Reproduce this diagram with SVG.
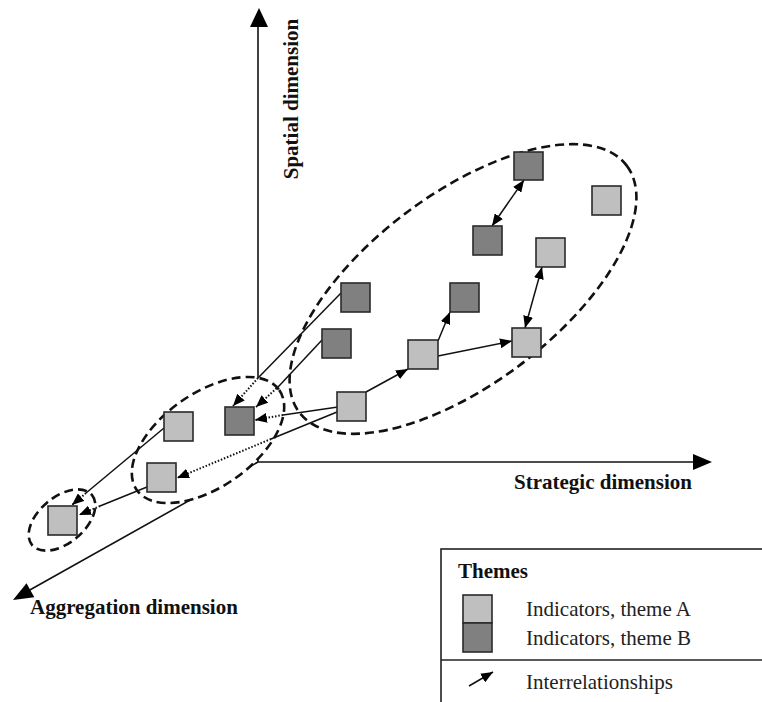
<svg xmlns="http://www.w3.org/2000/svg" width="762" height="702" viewBox="0 0 762 702">
<style>
.axis{stroke:#111;stroke-width:1.6;fill:none}
.ahead{fill:#000;stroke:none}
.efill{fill:#fff;stroke:none}
.ell{fill:none;stroke:#111;stroke-width:2.6;stroke-dasharray:9,5}
.c{stroke:#111;stroke-width:1.5;fill:none}
.d{stroke:#111;stroke-width:2;fill:none;stroke-dasharray:1.5,1.8}
.a{fill:#bfbfbf;stroke:#2a2a2a;stroke-width:1.6}
.b{fill:#808080;stroke:#2a2a2a;stroke-width:1.6}
.lab{font-family:"Liberation Serif","Times New Roman",serif;font-weight:bold;font-size:21px;fill:#111}
.leg{font-family:"Liberation Serif","Times New Roman",serif;font-size:21px;fill:#222}
</style>
<defs>
<marker id="ah" viewBox="0 0 12 10" refX="12" refY="5" markerWidth="12" markerHeight="10" markerUnits="userSpaceOnUse" orient="auto-start-reverse">
<path d="M0,0 L12,5 L0,10 z" fill="#000"/>
</marker>
</defs>

<g id="axes">
<line class="axis" x1="258" y1="462" x2="258" y2="24"/>
<polygon class="ahead" points="259,8 268,27 250,27"/>
<line class="axis" x1="258" y1="462" x2="696" y2="462"/>
<polygon class="ahead" points="712,462 693,454 693,470"/>
<line class="axis" x1="258" y1="462" x2="28" y2="591"/>
<polygon class="ahead" points="13,600 34.3,597.2 26.5,583.2"/>
</g>

<g id="groups">
<ellipse class="efill" cx="463" cy="289" rx="205" ry="95" transform="rotate(-37 463 289)"/>
<ellipse class="efill" cx="208" cy="440" rx="87" ry="47" transform="rotate(-35 208 440)"/>
<ellipse class="efill" cx="62" cy="520" rx="39" ry="23" transform="rotate(-40 62 520)"/>
<ellipse id="group-large" class="ell" cx="463" cy="289" rx="205" ry="95" transform="rotate(-37 463 289)"/>
<ellipse id="group-medium" class="ell" cx="208" cy="440" rx="87" ry="47" transform="rotate(-35 208 440)"/>
<ellipse id="group-small" class="ell" cx="62" cy="520" rx="39" ry="23" transform="rotate(-40 62 520)"/>
</g>

<g id="connectors">
<line class="c" x1="366" y1="392" x2="408" y2="369" marker-end="url(#ah)"/>
<line class="c" x1="438" y1="341" x2="450" y2="312" marker-end="url(#ah)"/>
<line class="c" x1="438" y1="356" x2="512" y2="341" marker-end="url(#ah)"/>
<line class="c" x1="524" y1="180" x2="492" y2="226" marker-start="url(#ah)" marker-end="url(#ah)"/>
<line class="c" x1="542" y1="267" x2="525" y2="328" marker-start="url(#ah)" marker-end="url(#ah)"/>
<line class="c" x1="341" y1="293" x2="258" y2="378"/>
<line class="d" x1="258" y1="378" x2="233" y2="406" marker-end="url(#ah)"/>
<line class="c" x1="322" y1="340" x2="279" y2="386"/>
<line class="d" x1="279" y1="386" x2="256" y2="407" marker-end="url(#ah)"/>
<line class="c" x1="338" y1="407" x2="283" y2="415"/>
<line class="d" x1="283" y1="415" x2="255" y2="420" marker-end="url(#ah)"/>
<line class="c" x1="337" y1="412" x2="271" y2="439"/>
<line class="d" x1="271" y1="439" x2="177" y2="478" marker-end="url(#ah)"/>
<line class="c" x1="164" y1="428" x2="86" y2="493"/>
<line class="d" x1="86" y1="493" x2="72" y2="505" marker-end="url(#ah)"/>
<line class="c" x1="147" y1="487" x2="100" y2="506"/>
<line class="d" x1="100" y1="506" x2="79" y2="515" marker-end="url(#ah)"/>
</g>

<g id="node-b1"><rect class="b" x="514" y="152" width="29" height="28"/></g>
<g id="node-a1"><rect class="a" x="592" y="186" width="29" height="29"/></g>
<g id="node-b2"><rect class="b" x="473" y="226" width="29" height="29"/></g>
<g id="node-a2"><rect class="a" x="536" y="238" width="29" height="29"/></g>
<g id="node-b3"><rect class="b" x="341" y="283" width="29" height="29"/></g>
<g id="node-b4"><rect class="b" x="450" y="283" width="29" height="29"/></g>
<g id="node-b5"><rect class="b" x="322" y="329" width="29" height="29"/></g>
<g id="node-a3"><rect class="a" x="408" y="340" width="30" height="29"/></g>
<g id="node-a4"><rect class="a" x="512" y="328" width="29" height="29"/></g>
<g id="node-a5"><rect class="a" x="337" y="392" width="29" height="29"/></g>
<g id="node-a6"><rect class="a" x="164" y="412" width="29" height="29"/></g>
<g id="node-b6"><rect class="b" x="225" y="407" width="29" height="28"/></g>
<g id="node-a7"><rect class="a" x="147" y="463" width="29" height="29"/></g>
<g id="node-a8"><rect class="a" x="48" y="506" width="29" height="29"/></g>

<g id="labels">
<text class="lab" transform="translate(298,99) rotate(-90)" text-anchor="middle">Spatial dimension</text>
<text class="lab" x="514" y="489">Strategic dimension</text>
<text class="lab" x="30" y="614">Aggregation dimension</text>
</g>

<g id="legend">
<rect x="441" y="549" width="340" height="170" fill="none" stroke="#222" stroke-width="1.6"/>
<line x1="441" y1="660" x2="762" y2="660" stroke="#222" stroke-width="1.6"/>
<text class="lab" x="458" y="578">Themes</text>
<rect class="a" x="463" y="595" width="29" height="28"/>
<rect class="b" x="463" y="623" width="29" height="29"/>
<text class="leg" x="526" y="616">Indicators, theme A</text>
<text class="leg" x="526" y="645">Indicators, theme B</text>
<line class="c" x1="469" y1="686" x2="493" y2="672" marker-end="url(#ah)"/>
<text class="leg" x="526" y="689">Interrelationships</text>
</g>
</svg>
